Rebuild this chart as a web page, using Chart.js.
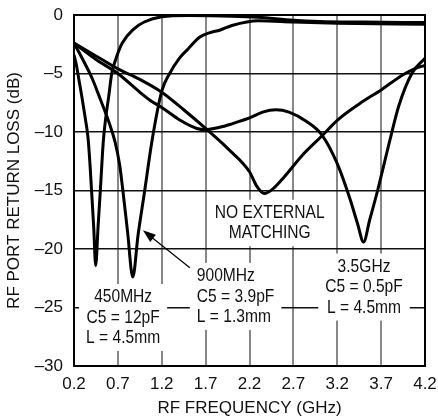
<!DOCTYPE html>
<html>
<head>
<meta charset="utf-8">
<title>RF Port Return Loss</title>
<script src="https://cdn.jsdelivr.net/npm/chart.js"></script>
<style>
  html, body { margin: 0; padding: 0; background: #fff; }
  canvas { display: block; }
</style>
</head>
<body>
<canvas id="lossChart" width="438" height="419"></canvas>
<script>
// values: frequency in GHz, return loss in dB
const freq450 = [0.2, 0.225, 0.26, 0.29, 0.33, 0.36, 0.38, 0.40, 0.425, 0.447, 0.475, 0.50, 0.535, 0.565, 0.595, 0.63, 0.68, 0.75, 0.88, 1.0, 1.2, 1.5, 2.0, 2.3, 2.7, 3.0, 3.5, 4.2];
const loss450 = [-3.4, -4.2, -5.7, -7.0, -8.9, -10.5, -12.5, -15.0, -18.2, -21.4, -18.0, -15.0, -10.7, -8.6, -7.0, -5.0, -3.7, -2.4, -1.2, -0.6, -0.15, -0.05, -0.1, -0.2, -0.45, -0.55, -0.6, -0.65];

const freq900 = [0.2, 0.3, 0.4, 0.5, 0.6, 0.67, 0.72, 0.757, 0.81, 0.87, 0.93, 1.0, 1.09, 1.2, 1.29, 1.4, 1.5, 1.63, 1.75, 1.86, 2.0, 2.3, 2.7, 3.2, 4.2];
const loss900 = [-2.4, -3.8, -5.3, -7.2, -9.2, -10.9, -12.8, -15.0, -18.5, -22.4, -18.8, -15.3, -10.7, -6.5, -5.0, -3.7, -2.9, -1.9, -1.5, -1.3, -0.9, -0.5, -0.6, -0.7, -0.8];

const freqNoMatch = [0.2, 0.45, 0.7, 0.95, 1.2, 1.45, 1.7, 1.95, 2.2, 2.28, 2.37, 2.46, 2.6, 2.8, 3.03, 3.2, 3.45, 3.7, 3.95, 4.08, 4.2];
const lossNoMatch = [-2.4, -3.5, -4.6, -5.5, -6.6, -8.1, -9.7, -11.4, -13.4, -14.6, -15.25, -14.9, -13.8, -12.0, -10.3, -9.0, -7.6, -6.4, -5.1, -4.6, -4.3];

const freq3500 = [0.2, 0.45, 0.7, 0.95, 1.07, 1.2, 1.41, 1.6, 1.7, 1.86, 2.0, 2.2, 2.35, 2.5, 2.65, 2.85, 3.03, 3.2, 3.34, 3.43, 3.5, 3.57, 3.66, 3.8, 3.9, 4.05, 4.2];
const loss3500 = [-2.4, -3.8, -5.0, -6.6, -7.3, -7.9, -9.0, -9.7, -9.8, -9.6, -9.3, -8.8, -8.3, -8.1, -8.3, -9.1, -10.3, -12.7, -15.6, -17.8, -19.4, -17.5, -15.0, -10.7, -7.8, -5.0, -3.7];

const xTicks = [0.2, 0.7, 1.2, 1.7, 2.2, 2.7, 3.2, 3.7, 4.2];
const yTicks = [0, -5, -10, -15, -20, -25, -30];

const FONT = "'Liberation Sans', Arial, sans-serif";
const NARROW = 0.82; // the original lettering is a condensed face

// text notes inside the plot (anchor in data units)
const notes = [
    { x: 0.76, y: -24.1, align: 'center', lines: ['450MHz', 'C5 = 12pF', 'L = 4.5mm'] },
    { x: 1.6, y: -22.3, align: 'left', lines: ['900MHz', 'C5 = 3.9pF', 'L = 1.3mm'] },
    { x: 2.43, y: -16.9, align: 'center', lines: ['NO EXTERNAL', 'MATCHING'] },
    { x: 3.505, y: -21.5, align: 'center', lines: ['3.5GHz', 'C5 = 0.5pF', 'L = 4.5mm'] }
];
const arrow900 = { from: [1.52, -21.6], to: [0.985, -18.4] };

function pts(xs, ys) {
    return xs.map((x, i) => ({ x: x, y: ys[i] }));
}

function curve(xs, ys) {
    return {
        data: pts(xs, ys),
        borderColor: '#000',
        borderWidth: 3,
        pointRadius: 0,
        fill: false,
        cubicInterpolationMode: 'monotone'
    };
}

const LINE_H = 20.5;

function noteBoxes(chart) {
    const ctx = chart.ctx;
    const xs = chart.scales.x, ys = chart.scales.y;
    ctx.font = '19px ' + FONT;
    return notes.map(n => {
        const px = xs.getPixelForValue(n.x);
        const py = ys.getPixelForValue(n.y);
        const w = Math.max(...n.lines.map(l => ctx.measureText(l).width)) * NARROW;
        const left = n.align === 'left' ? px : px - w / 2;
        return {
            note: n, px: px, py: py,
            box: [left - 7, py - 13, w + 14, (n.lines.length - 1) * LINE_H + 26]
        };
    });
}

const notesPlugin = {
    id: 'notes',
    beforeDatasetsDraw(chart) {
        const ctx = chart.ctx;
        const a = chart.chartArea;
        ctx.save();
        ctx.fillStyle = '#fff';
        noteBoxes(chart).forEach(b => ctx.fillRect(...b.box));
        ctx.strokeStyle = '#000';
        ctx.lineWidth = 2;
        ctx.strokeRect(a.left, a.top, a.right - a.left, a.bottom - a.top);
        ctx.restore();
    },
    afterDatasetsDraw(chart) {
        const ctx = chart.ctx;
        const xs = chart.scales.x, ys = chart.scales.y;
        ctx.save();
        ctx.fillStyle = '#111';
        ctx.textBaseline = 'middle';
        noteBoxes(chart).forEach(b => {
            ctx.save();
            ctx.translate(b.px, b.py);
            ctx.scale(NARROW, 1);
            ctx.textAlign = b.note.align;
            b.note.lines.forEach((l, i) => ctx.fillText(l, 0, i * LINE_H));
            ctx.restore();
        });
        // arrow to the 900MHz dip
        const x1 = xs.getPixelForValue(arrow900.from[0]), y1 = ys.getPixelForValue(arrow900.from[1]);
        const x2 = xs.getPixelForValue(arrow900.to[0]), y2 = ys.getPixelForValue(arrow900.to[1]);
        const ang = Math.atan2(y2 - y1, x2 - x1);
        ctx.strokeStyle = '#000';
        ctx.lineWidth = 1.2;
        ctx.beginPath();
        ctx.moveTo(x1, y1);
        ctx.lineTo(x2 - 8 * Math.cos(ang), y2 - 8 * Math.sin(ang));
        ctx.stroke();
        ctx.beginPath();
        ctx.moveTo(x2, y2);
        ctx.lineTo(x2 - 13 * Math.cos(ang) + 4.5 * Math.sin(ang), y2 - 13 * Math.sin(ang) - 4.5 * Math.cos(ang));
        ctx.lineTo(x2 - 13 * Math.cos(ang) - 4.5 * Math.sin(ang), y2 - 13 * Math.sin(ang) + 4.5 * Math.cos(ang));
        ctx.closePath();
        ctx.fillStyle = '#000';
        ctx.fill();
        ctx.restore();
    }
};

const ctx = document.getElementById('lossChart').getContext('2d');
new Chart(ctx, {
    type: 'line',
    data: {
        datasets: [
            curve(freq450, loss450),
            curve(freq900, loss900),
            curve(freqNoMatch, lossNoMatch),
            curve(freq3500, loss3500)
        ]
    },
    options: {
        responsive: false,
        animation: false,
        layout: { padding: { top: 15, right: 13, left: 0, bottom: 0 } },
        plugins: {
            legend: { display: false },
            tooltip: { enabled: false }
        },
        scales: {
            x: {
                type: 'linear',
                min: 0.2,
                max: 4.2,
                afterBuildTicks: s => { s.ticks = xTicks.map(v => ({ value: v })); },
                afterFit: s => {
                    s.height = 53;
                    s.paddingLeft = 0;
                    s.paddingRight = 0;
                },
                grid: { color: '#888', lineWidth: 2, drawTicks: false },
                border: { display: false },
                ticks: {
                    color: '#111',
                    padding: 8,
                    font: { family: FONT, size: 17 },
                    callback: v => v.toFixed(1)
                },
                title: {
                    display: true,
                    text: 'RF FREQUENCY (GHz)',
                    color: '#111',
                    padding: 0,
                    font: { family: FONT, size: 17 }
                }
            },
            y: {
                min: -30,
                max: 0,
                afterBuildTicks: s => { s.ticks = yTicks.map(v => ({ value: v })); },
                afterFit: s => {
                    s.width = 74;
                    s.paddingTop = 0;
                    s.paddingBottom = 0;
                },
                grid: { color: '#111', lineWidth: 1.5, drawTicks: false },
                border: { display: false },
                ticks: {
                    color: '#111',
                    padding: 11,
                    font: { family: FONT, size: 17 },
                    callback: v => v === 0 ? '0' : '\u2013' + Math.abs(v)
                },
                title: {
                    display: true,
                    text: 'RF PORT RETURN LOSS (dB)',
                    color: '#111',
                    padding: { top: 4 },
                    font: { family: FONT, size: 17 }
                }
            }
        }
    },
    plugins: [notesPlugin]
});
</script>
</body>
</html>
